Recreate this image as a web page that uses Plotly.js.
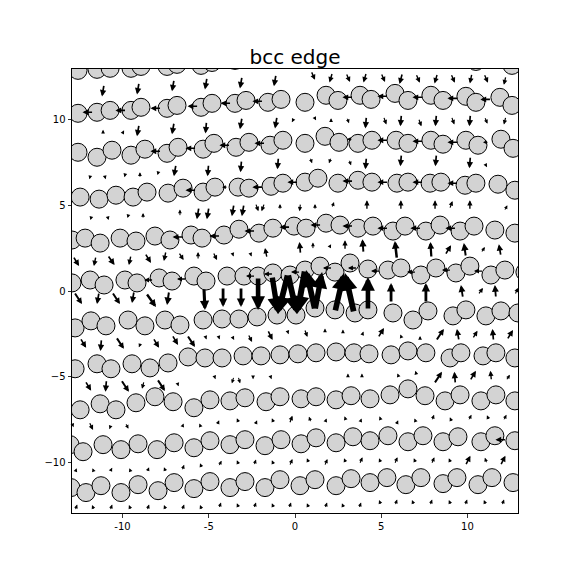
<!DOCTYPE html>
<html>
<head>
<meta charset="utf-8">
<script src="https://cdn.plot.ly/plotly-3.0.1.min.js"></script>
<style>html,body{margin:0;padding:0;background:#fff;}#plot{width:576px;height:576px;}</style>
</head>
<body>
<div id="plot"></div>
<script>
// ---- atom rows (x, y) ----
const r1x = [-12.58,-11.48,-10.72,-9.51,-8.93,-7.42,-6.84,-5.45,-4.81,-3.48,-2.84,-1.57,-0.81,0.58,1.80,2.49,3.77,4.41,5.80,6.55,7.88,8.58,9.91,10.49,11.88,12.58];
const r1y = [12.85,12.91,12.97,12.97,13.08,13.08,13.20,13.14,13.31,13.43,13.55,13.49,13.60,13.55,13.84,13.60,13.84,13.60,13.90,13.55,13.78,13.55,13.72,13.37,13.60,13.14];
const r2x = [-12.58,-11.48,-10.72,-9.51,-8.93,-7.42,-6.84,-5.45,-4.81,-3.48,-2.84,-1.57,-0.81,0.58,1.80,2.49,3.77,4.41,5.80,6.55,7.88,8.58,9.91,10.49,11.88,12.58];
const r2y = [10.35,10.41,10.52,10.52,10.70,10.64,10.81,10.70,10.93,10.93,11.10,10.99,11.16,10.99,11.40,11.10,11.40,11.16,11.51,11.10,11.40,11.10,11.34,10.99,11.28,10.81];
const r3x = [-12.58,-11.48,-10.61,-9.51,-8.70,-7.42,-6.78,-5.33,-4.70,-3.42,-2.67,-1.45,-0.70,0.58,1.74,2.55,3.65,4.46,5.86,6.55,7.88,8.58,9.91,10.61,11.94,12.64];
const r3y = [8.08,7.79,8.20,7.91,8.26,8.02,8.37,8.26,8.60,8.37,8.66,8.49,8.78,8.60,9.01,8.66,8.60,8.78,8.78,8.60,8.78,8.55,8.78,8.49,8.84,8.31];
const r4x = [-12.46,-11.36,-10.38,-9.39,-8.58,-7.36,-6.49,-5.33,-4.64,-3.30,-2.67,-1.39,-0.70,0.58,1.33,2.49,3.65,4.46,5.91,6.55,7.83,8.46,9.86,10.49,11.77,12.75];
const r4y = [5.47,5.35,5.58,5.47,5.76,5.70,5.99,5.76,6.05,6.05,5.99,6.10,6.28,6.34,6.57,6.28,6.45,6.34,6.28,6.34,6.28,6.34,6.16,6.28,6.22,5.87];
const r5x = [-12.93,-12.17,-11.30,-10.14,-9.22,-8.12,-7.25,-6.03,-5.39,-4.12,-3.25,-2.09,-1.28,-0.06,0.64,1.80,2.61,3.65,4.52,5.68,6.38,7.59,8.41,9.57,10.38,11.59,12.75];
const r5y = [2.97,3.08,2.79,3.08,2.91,3.20,2.97,3.26,3.08,3.26,3.60,3.37,3.66,3.78,3.66,3.95,3.84,3.66,3.78,3.49,3.78,3.49,3.84,3.49,3.78,3.55,3.37];
const r6x = [-12.93,-11.88,-11.07,-9.86,-9.16,-7.88,-7.13,-5.86,-5.16,-3.94,-2.96,-2.14,-1.28,-0.29,0.58,1.45,2.32,3.19,4.23,5.39,6.14,7.30,8.17,9.33,10.14,11.36,12.17,13.33];
const r6y = [0.47,0.64,0.35,0.64,0.47,0.76,0.58,0.87,0.58,0.87,0.87,0.87,1.05,0.93,1.22,1.45,1.10,1.63,1.28,1.22,1.34,0.93,1.34,1.05,1.45,0.93,1.22,1.10];
const r7x = [-12.75,-11.83,-10.96,-9.68,-8.70,-7.54,-6.67,-5.33,-4.23,-3.25,-2.20,-1.04,0.06,1.16,2.32,3.48,4.23,5.68,6.84,7.71,9.16,9.91,11.07,11.94,12.93];
const r7y = [-2.15,-1.74,-2.03,-1.69,-2.03,-1.69,-1.98,-1.69,-1.63,-1.63,-1.51,-1.40,-1.40,-0.99,-1.10,-1.28,-1.10,-1.28,-1.69,-1.16,-1.45,-1.10,-1.45,-1.16,-1.28];
const r8x = [-12.75,-11.48,-10.67,-9.45,-8.41,-7.36,-6.20,-5.22,-4.23,-3.01,-1.97,-0.87,0.17,1.22,2.38,3.42,4.29,5.57,6.55,7.59,8.99,9.62,10.90,11.65,12.75];
const r8y = [-4.53,-4.24,-4.53,-4.24,-4.48,-4.19,-3.84,-3.90,-3.90,-3.78,-3.78,-3.72,-3.66,-3.60,-3.55,-3.60,-3.66,-3.72,-3.49,-3.60,-3.90,-3.60,-3.78,-3.60,-3.90];
const r9x = [-12.46,-11.30,-10.38,-9.22,-8.12,-7.07,-5.86,-4.93,-3.77,-2.90,-1.68,-0.87,0.35,1.22,2.38,3.25,4.35,5.51,6.55,7.54,8.70,9.57,10.78,11.65,12.75];
const r9y = [-6.92,-6.57,-6.92,-6.51,-6.16,-6.45,-6.80,-6.34,-6.40,-6.22,-6.45,-6.16,-6.28,-6.16,-6.34,-6.10,-6.28,-6.05,-5.70,-6.10,-6.40,-6.05,-6.40,-6.05,-6.40];
const r10x = [-13.04,-12.29,-11.13,-10.09,-9.10,-8.00,-7.01,-5.86,-4.93,-3.77,-2.90,-1.74,-0.81,0.35,1.22,2.38,3.36,4.35,5.39,6.55,7.42,8.58,9.45,10.78,11.59,12.75];
const r10y = [-8.95,-9.36,-8.95,-9.24,-8.90,-9.24,-8.84,-9.13,-8.72,-8.95,-8.66,-9.01,-8.66,-8.90,-8.55,-8.84,-8.49,-8.72,-8.43,-8.78,-8.43,-8.78,-8.49,-8.78,-8.43,-8.72];
const r11x = [-12.99,-12.12,-11.25,-10.09,-9.10,-7.94,-7.01,-5.86,-4.93,-3.77,-2.90,-1.74,-0.87,0.29,1.16,2.38,3.25,4.35,5.33,6.43,7.30,8.58,9.39,10.61,11.42,12.64];
const r11y = [-11.45,-11.74,-11.34,-11.74,-11.28,-11.63,-11.16,-11.51,-11.10,-11.45,-11.10,-11.45,-10.99,-11.34,-10.99,-11.34,-10.93,-11.16,-10.87,-11.28,-10.87,-11.22,-10.87,-11.28,-10.87,-11.16];

// ---- arrows: [tail x, tail y, u, v] per band between rows ----
const band1 = [[-11.07,12.03,-0.12,-0.70],[-9.04,12.15,-0.12,-0.70],[-7.01,12.33,-0.12,-0.70],[-5.10,12.44,-0.12,-0.70],[-3.07,12.50,-0.12,-0.70],[-1.10,12.62,-0.12,-0.70],[0.93,12.82,0.23,-0.52],[2.17,12.73,-0.17,-0.58],[2.96,12.70,0.23,-0.52],[4.14,12.73,-0.17,-0.58],[4.99,12.70,0.23,-0.52],[6.23,12.70,-0.17,-0.64],[7.01,12.65,0.23,-0.52],[8.26,12.67,-0.17,-0.58],[9.04,12.65,0.23,-0.52],[10.26,12.67,-0.12,-0.58],[10.96,12.65,0.23,-0.52],[12.23,12.53,-0.12,-0.52]];
const band2 = [[-11.13,9.10,0,0.29],[-10.03,9.13,0.12,0.23],[-9.04,9.71,-0.12,-0.70],[-7.01,9.83,-0.12,-0.70],[-5.13,9.88,-0.06,-0.70],[-3.07,10.12,-0.12,-0.70],[-1.04,10.17,-0.12,-0.70],[-0.06,10.06,-0.12,-0.23],[1.10,10.17,0.12,-0.23],[2.09,9.83,0,0.23],[3.01,10.12,0.12,-0.35],[4.14,10.17,-0.06,-0.70],[5.13,10.17,0.17,-0.47],[6.17,10.29,-0.06,-0.70],[7.16,10.06,0.17,-0.47],[8.20,10.29,-0.06,-0.70],[9.07,10.17,0.17,-0.47],[10.17,10.29,-0.06,-0.70],[10.99,10.15,0.17,-0.41],[12.23,10.17,-0.12,-0.47]];
const band3 = [[-11.86,6.74,-0.06,-0.23],[-11.04,6.74,0.06,-0.23],[-9.83,6.86,-0.06,-0.23],[-8.99,6.57,0,0.35],[-7.91,6.98,-0.06,-0.23],[-6.90,7.38,-0.12,-0.70],[-5.01,7.38,-0.06,-0.70],[-3.10,7.62,-0.06,-0.70],[-0.96,7.79,-0.06,-0.70],[0.87,7.79,0.12,-0.35],[2.09,7.79,-0.12,-0.35],[3.13,7.67,0.12,-0.35],[4.14,7.79,-0.06,-0.70],[6.17,7.97,-0.06,-0.70],[8.20,7.97,-0.06,-0.70],[10.17,7.85,-0.06,-0.70],[11.01,7.44,0.12,-0.23]];
const band4 = [[-11.80,4.36,-0.06,-0.23],[-10.87,4.36,0.06,-0.23],[-9.65,4.48,-0.06,-0.23],[-8.81,4.19,0,0.35],[-6.67,4.33,0,0.41],[-5.57,4.88,-0.12,-0.70],[-4.99,4.88,-0.12,-0.70],[-3.54,5.06,-0.12,-0.70],[-2.96,5.06,-0.12,-0.70],[-2.29,5.12,0.17,-0.47],[-1.77,5.12,-0.17,-0.47],[-0.87,4.71,0,0.35],[0.32,5.12,-0.06,-0.47],[1.16,4.71,0,0.35],[2.14,4.83,0.12,0.35],[4.17,4.71,0,0.58],[6.14,4.71,0,0.58],[8.12,4.71,0,0.58],[8.96,4.77,0.17,0.47],[10.14,4.71,0,0.58],[12.14,4.65,0.17,0.35]];
const band5 = [[-12.87,2.03,0.35,-0.58],[-11.54,2.03,-0.12,-0.58],[-10.87,2.09,0.41,-0.58],[-9.51,2.09,-0.12,-0.58],[-8.70,2.21,0.35,-0.58],[-7.48,2.33,-0.12,-0.58],[-6.75,2.27,0.29,-0.47],[-5.62,1.80,0,0.47],[-4.75,2.27,0.23,-0.47],[-3.62,2.18,0.06,-0.17],[-2.58,2.18,0.06,-0.17],[-1.62,1.92,-0.12,0.58],[0.32,2.15,-0.06,0.70],[1.04,2.41,0,0.41],[1.97,2.50,0.12,0.23],[2.90,2.38,0,0.58],[3.97,2.21,-0.06,0.81],[5.91,1.86,-0.12,1.05],[7.91,1.92,-0.06,0.93],[8.70,2.09,0.35,0.58],[9.91,1.98,-0.12,0.81],[10.78,2.21,0.23,0.35],[11.94,2.03,-0.12,0.70]];
const band6 = [[-12.81,-0.06,0.46,-0.70],[-11.36,-0.06,-0.12,-0.70],[-10.61,-0.06,0.46,-0.70],[-9.33,0.00,-0.12,-0.70],[-8.64,-0.12,0.58,-0.81],[-7.30,0.00,-0.12,-0.81],[-5.28,0.17,0.06,-1.28],[-4.17,0.23,0,-1.16],[-3.13,0.23,0,-1.16],[-2.14,0.81,0,-1.92],[-1.33,0.87,0.35,-2.21],[-0.41,0.99,-0.58,-2.33],[-0.41,0.99,0.52,-2.33],[0.58,1.22,-0.46,-2.56],[1.16,-1.10,-0.52,2.33],[1.16,-1.10,0.41,2.21],[2.32,-1.22,0.52,2.27],[3.42,-1.28,-0.52,2.33],[4.23,-1.10,0,1.92],[5.57,-0.70,0,1.16],[7.59,-0.70,0,1.16],[9.74,-0.41,-0.12,0.76],[10.61,-0.23,0.29,0.41],[11.65,-0.41,-0.06,0.76],[12.75,-0.23,0.17,0.41]];
const band7 = [[-12.46,-2.73,0.35,-0.58],[-11.22,-2.79,-0.06,-0.70],[-10.38,-2.67,0.46,-0.70],[-8.93,-2.99,-0.12,-0.29],[-8.23,-2.73,0.35,-0.58],[-7.13,-2.56,0.35,-0.58],[-6.26,-2.56,0.46,-0.70],[-5.19,-2.65,0.06,-0.17],[-4.43,-2.65,0.06,-0.17],[-3.65,-2.62,0.12,-0.23],[-2.72,-2.50,0.23,-0.47],[-1.59,-2.27,0.29,-0.58],[-0.43,-2.35,0.06,-0.17],[0.55,-2.21,0.17,-0.47],[1.74,-2.35,0,0.17],[2.78,-2.41,0,0.17],[3.91,-2.53,0.06,0.17],[4.81,-2.73,0.35,0.58],[6.17,-2.70,-0.06,0.17],[7.25,-2.85,0,0.23],[8.17,-2.91,0.46,0.70],[9.51,-2.91,-0.12,0.70],[10.29,-2.79,0.29,0.47],[11.51,-2.91,-0.06,0.70],[12.29,-2.85,0.35,0.58]];
const band8 = [[-12.17,-5.23,0.35,-0.58],[-10.93,-5.17,-0.06,-0.70],[-10.09,-5.17,0.46,-0.70],[-8.75,-5.23,-0.12,-0.47],[-8.00,-5.12,0.46,-0.70],[-6.81,-5.38,0.06,-0.17],[-4.67,-4.97,0.06,-0.17],[-3.54,-4.97,-0.12,-0.41],[-3.30,-4.97,0.12,-0.41],[-2.43,-4.97,0,-0.17],[-1.42,-4.97,0.06,-0.17],[3.07,-4.97,0,0.17],[3.88,-4.97,0,0.17],[6.00,-4.97,-0.06,0.17],[7.04,-4.88,-0.06,0.23],[8.06,-5.41,0.46,0.70],[9.30,-5.41,-0.06,0.70],[10.14,-5.23,0.35,0.58],[11.39,-5.23,-0.06,0.58],[12.23,-5.23,0.23,0.35]];
const band9 = [[-12.90,-7.76,0.06,-0.17],[-11.94,-7.62,0.23,-0.47],[-10.70,-7.88,-0.06,-0.17],[-9.83,-7.67,0.17,-0.35],[-6.52,-7.88,0.06,0.17],[-5.48,-7.88,-0.06,0.17],[-4.52,-7.82,0.12,0.29],[-3.25,-7.70,-0.12,0.29],[-2.32,-7.82,0.12,0.29],[-1.22,-7.70,-0.12,0.29],[-0.32,-7.73,0.17,0.47],[0.93,-7.67,-0.12,0.35],[1.77,-7.59,0.06,0.17],[2.93,-7.47,-0.06,0.17],[3.80,-7.59,0.06,0.17],[4.96,-7.47,-0.06,0.17],[5.86,-7.82,0.12,0.29],[6.99,-7.59,-0.06,0.17],[7.94,-7.56,0.12,0.35],[9.10,-7.65,-0.12,0.29],[10.06,-7.56,0.17,0.35],[11.25,-7.53,-0.12,0.29],[12.09,-7.56,0.17,0.35]];
const band10 = [[-12.72,-10.49,0.06,0.17],[-11.68,-10.49,-0.06,0.17],[-10.72,-10.52,0.12,0.23],[-9.54,-10.49,-0.06,0.17],[-8.58,-10.55,0.12,0.29],[-7.48,-10.55,-0.12,0.29],[-6.55,-10.47,0.12,0.35],[-5.39,-10.32,-0.12,0.29],[-4.43,-10.23,0.17,0.35],[-3.25,-10.15,-0.12,0.29],[-2.38,-10.17,0.12,0.35],[-1.22,-10.15,-0.12,0.29],[-0.32,-10.20,0.17,0.41],[0.81,-10.03,-0.12,0.29],[1.71,-10.20,0.17,0.41],[2.96,-10.03,-0.12,0.29],[3.74,-10.09,0.17,0.41],[4.99,-10.03,-0.12,0.29],[5.77,-10.09,0.17,0.41],[7.01,-10.03,-0.12,0.29],[7.91,-10.09,0.17,0.41],[9.04,-10.03,-0.12,0.29],[9.88,-10.17,0.29,0.58],[11.13,-10.06,-0.12,0.35],[11.91,-10.17,0.29,0.58]];
const band11 = [[-12.75,-12.79,0.12,0.35],[-11.65,-12.76,-0.12,0.29],[-10.72,-12.79,0.12,0.35],[-9.51,-12.76,-0.12,0.29],[-8.58,-12.79,0.12,0.35],[-7.48,-12.76,-0.12,0.29],[-6.55,-12.79,0.12,0.35],[-5.39,-12.76,-0.12,0.29],[-4.41,-12.67,0.12,0.35],[-3.25,-12.65,-0.12,0.29],[-2.38,-12.67,0.12,0.35],[-1.22,-12.65,-0.12,0.29],[-0.35,-12.67,0.12,0.35],[0.81,-12.65,-0.12,0.29],[1.74,-12.67,0.12,0.35],[2.84,-12.65,-0.12,0.29],[3.71,-12.67,0.12,0.35],[4.99,-12.47,-0.12,0.29],[5.80,-12.50,0.12,0.35],[6.90,-12.47,-0.12,0.29],[7.83,-12.50,0.12,0.35],[9.04,-12.47,-0.12,0.29],[9.86,-12.50,0.12,0.35],[11.07,-12.47,-0.12,0.29],[12.00,-12.50,0.12,0.35]];
// in-row arrows (pointing along the rows)
const rowArrows = [
 [-11.68,10.41,-0.64,0],[-9.77,10.52,-0.64,0],[-7.74,10.64,-0.64,0],[-5.59,10.76,-0.64,0],[-3.68,10.93,-0.64,0],[-1.83,11.05,-0.64,0],[3.39,11.28,-0.64,0],[5.42,11.34,-0.64,0],[7.45,11.28,-0.64,0],[9.48,11.22,-0.64,0],[11.39,11.16,-0.64,0],
 [-7.74,8.14,-0.64,0],[-5.71,8.31,-0.64,0],[-3.74,8.49,-0.64,0],[-1.71,8.60,-0.64,0],[3.36,8.84,-0.35,0],[5.42,8.78,-0.64,0],[7.45,8.72,-0.64,0],[9.48,8.66,-0.64,0],[11.25,8.66,-0.35,0],
 [-5.71,5.87,-0.64,0],[-3.88,6.05,-0.35,0],[-1.83,6.05,-0.64,0],[0.20,6.34,-0.64,0],[3.39,6.40,-0.64,0],[5.42,6.34,-0.64,0],[7.45,6.34,-0.64,0],[9.48,6.28,-0.64,0],
 [-6.46,3.14,-0.64,0],[-4.32,3.20,-0.64,0],[-2.29,3.49,-0.64,0],[-0.26,3.72,-0.64,0],[1.54,3.84,-0.64,0],[3.39,3.78,-0.64,0],[5.42,3.66,-0.64,0],[7.33,3.66,-0.64,0],[9.36,3.66,-0.64,0],
 [-8.20,0.64,-0.55,0],[-6.29,0.70,-0.55,0],[-2.29,0.87,-0.55,0],[-1.25,0.99,-0.55,0],[0.32,1.10,-0.55,0],[2.17,1.34,-0.55,0],[3.62,1.34,-0.55,0],[4.96,1.16,-0.55,0],[7.04,1.10,-0.55,0],[9.07,1.22,-0.55,0],[10.93,1.16,-0.55,0],
 [12.26,-8.66,-0.64,0]
];

const xTicks = [-10,-5,0,5,10];
const yTicks = [-10,-5,0,5,10];
const chartTitle = 'bcc edge';

const rowsX = [r1x,r2x,r3x,r4x,r5x,r6x,r7x,r8x,r9x,r10x,r11x];
const rowsY = [r1y,r2y,r3y,r4y,r5y,r6y,r7y,r8y,r9y,r10y,r11y];
const atomsX = [].concat(...rowsX);
const atomsY = [].concat(...rowsY);

const R = 12.93;
const W = 446, H = 444;
const pxX = W/(2*R), pxY = H/(2*R);

const allArrows = [].concat(band1,band2,band3,band4,band5,band6,band7,band8,band9,band10,band11,rowArrows);
const annotations = allArrows.map(a => {
  const len = Math.hypot(a[2]*pxX, a[3]*pxY);
  const w = Math.max(1.0, Math.min(6, 0.14*len));
  return {x:a[0]+a[2], y:a[1]+a[3], ax:a[0], ay:a[1], xref:'x', yref:'y', axref:'x', ayref:'y',
    showarrow:true, text:'', arrowhead:2, arrowsize: w < 2 ? 0.75 : 0.6, arrowwidth:w, arrowcolor:'black', standoff:0};
});

const trace = {x: atomsX, y: atomsY, mode:'markers', type:'scatter', cliponaxis:true,
  marker:{size:18, color:'lightgray', line:{color:'black', width:1}}, hoverinfo:'skip'};

const axisBase = {range:[-R,R], showgrid:false, zeroline:false, showline:true, mirror:true, linecolor:'black', linewidth:1,
  ticks:'outside', ticklen:3.5, tickwidth:0.8, tickcolor:'black', tickfont:{family:'DejaVu Sans', size:10, color:'black'}};

const layout = {
  width:576, height:576, margin:{l:72, r:58, t:69, b:63},
  paper_bgcolor:'white', plot_bgcolor:'white', showlegend:false,
  title:{text:chartTitle, font:{family:'DejaVu Sans', size:20, color:'black'}, x:0.5, xref:'paper', y:1-57/576, yref:'container', yanchor:'middle'},
  xaxis: Object.assign({}, axisBase, {tickvals:xTicks, ticktext:xTicks.map(String)}),
  yaxis: Object.assign({}, axisBase, {tickvals:yTicks}),
  annotations: annotations
};
Plotly.newPlot('plot', [trace], layout, {staticPlot:true, displayModeBar:false});
</script>
</body>
</html>
